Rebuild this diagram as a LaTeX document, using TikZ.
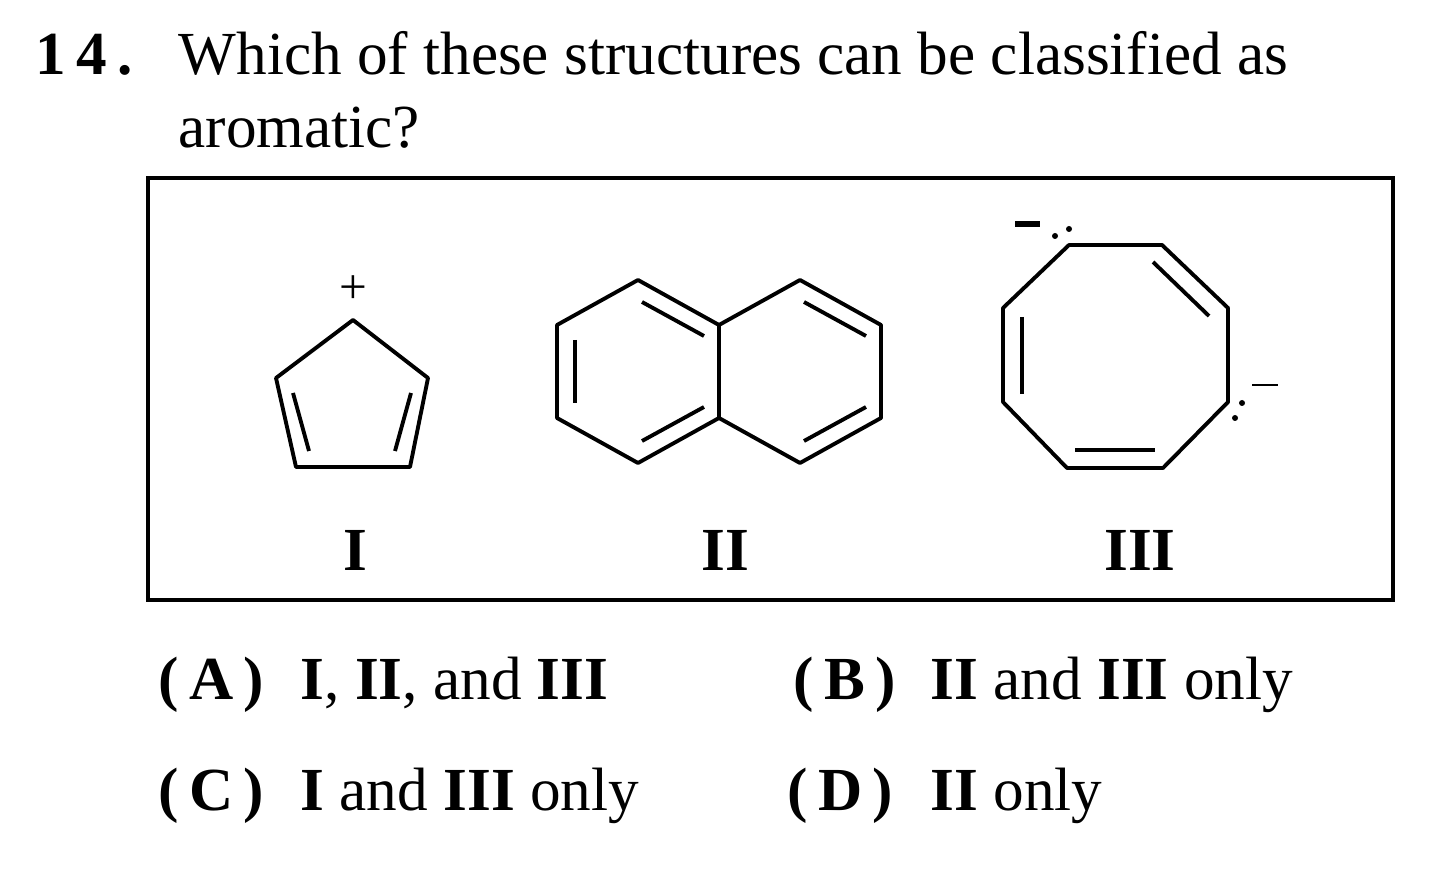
\documentclass[tikz,border=0pt]{standalone}
\usepackage{fontspec}
\setmainfont{Liberation Serif}
\usetikzlibrary{positioning}
\tikzset{bond/.style={line width=1.1pt, line join=round},
  txt/.style={anchor=base west, inner sep=0pt, font=\fontsize{17.4}{20}\selectfont},
  numlab/.style={inner sep=0pt, font=\fontsize{17.4}{20}\selectfont\bfseries}}
\begin{document}
\begin{tikzpicture}[x=0.01cm, y=-0.01cm]
  \useasboundingbox (0,0) rectangle (1440,889);

  % question
  \node[txt, font=\fontsize{17.4}{20}\selectfont\bfseries] (num) at (35,75) {1\,4\,.};
  \node[txt] (q1) at (178,75) {Which of these structures can be classified as};
  \node[txt] (q2) at (178,148) {aromatic?};

  % frame
  \draw[line width=1.2pt] (148,178) rectangle (1393,600);

  % I
  \coordinate (p1) at (353,320);
  \coordinate (p2) at (428,378);
  \coordinate (p3) at (410,467);
  \coordinate (p4) at (296,467);
  \coordinate (p5) at (276,378);
  \draw[bond] (p1) -- (p2) -- (p3) -- (p4) -- (p5) -- cycle;
  \draw[bond] (293,393) -- (309,451);
  \draw[bond] (411,393) -- (395,451);
  \node[inner sep=0pt, font=\fontsize{14}{14}\selectfont] (plus) at (353,290) {+};

  % II
  \foreach \cx in {638,800} {
    \draw[bond] (\cx,280) -- (\cx+81,325) -- (\cx+81,418) -- (\cx,463) -- (\cx-81,418) -- (\cx-81,325) -- cycle;
  }
  \draw[bond] (642,302) -- (704,336);
  \draw[bond] (575,340) -- (575,403);
  \draw[bond] (642,441) -- (704,407);
  \draw[bond] (804,302) -- (866,336);
  \draw[bond] (804,441) -- (866,407);

  % III
  \coordinate (o1) at (1069,245);
  \coordinate (o2) at (1162,245);
  \coordinate (o3) at (1228,308);
  \coordinate (o4) at (1228,402);
  \coordinate (o5) at (1163,468);
  \coordinate (o6) at (1067,468);
  \coordinate (o7) at (1003,402);
  \coordinate (o8) at (1003,308);
  \draw[bond] (o1) -- (o2) -- (o3) -- (o4) -- (o5) -- (o6) -- (o7) -- (o8) -- cycle;
  \draw[bond] (1153,262) -- (1209,316);
  \draw[bond] (1022,317) -- (1022,394);
  \draw[bond] (1075,450) -- (1155,450);
  \draw[line width=1.6pt] (1015,224) -- (1040,224);
  \fill (1055,236) circle (3) (1069,229) circle (3);
  \draw[line width=0.7pt] (1252,385) -- (1278,385);
  \fill (1242,403) circle (3) (1235,418) circle (3);

  % labels
  \node[numlab] (l1) at (355,550) {I};
  \node[numlab] (l2) at (725,550) {II};
  \node[numlab] (l3) at (1140,550) {III};

  % answers
  \node[txt] (aA) at (158,700) {\textbf{(\,A\,)}};
  \node[txt] (tA) at (300,700) {\textbf{I}, \textbf{II}, and \textbf{III}};
  \node[txt] (aB) at (793,700) {\textbf{(\,B\,)}};
  \node[txt] (tB) at (930,700) {\textbf{II} and \textbf{III} only};
  \node[txt] (aC) at (158,810) {\textbf{(\,C\,)}};
  \node[txt] (tC) at (300,810) {\textbf{I} and \textbf{III} only};
  \node[txt] (aD) at (787,810) {\textbf{(\,D\,)}};
  \node[txt] (tD) at (930,810) {\textbf{II} only};
\end{tikzpicture}
\end{document}
